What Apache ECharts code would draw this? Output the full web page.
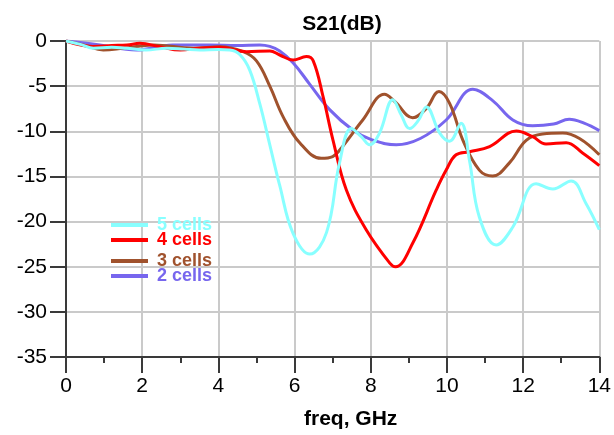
<!DOCTYPE html>
<html>
<head>
<meta charset="utf-8">
<script src="https://cdn.jsdelivr.net/npm/echarts@6/dist/echarts.min.js"></script>
<style>
  html, body { margin: 0; padding: 0; background: #fff; }
  #chart { width: 614px; height: 435px; }
</style>
</head>
<body>
<div id="chart"></div>
<script>
// S21 transmission of 2–5 cell filters vs. frequency
const xTicks = [0, 2, 4, 6, 8, 10, 12, 14];
const yTicks = [0, -5, -10, -15, -20, -25, -30, -35];

const cells5Freq = [0, 0.4, 0.72, 1.2, 1.59, 2.1, 2.64, 3.1, 3.51, 4.0, 4.3, 4.56, 4.82, 5.09, 5.35, 5.61, 5.96, 6.4, 6.84, 7.18, 7.49, 7.75, 7.97, 8.23, 8.58, 8.8, 9.02, 9.25, 9.46, 9.81, 10.07, 10.37, 10.59, 10.85, 11.29, 11.73, 12.34, 12.78, 13.26, 13.65, 14.0];
const cells5Db   = [0, -0.4, -0.8, -0.7, -0.8, -1.0, -0.8, -0.9, -1.0, -0.95, -1.0, -1.5, -3.2, -7.0, -11.5, -16, -21.3, -23.6, -21.2, -13.5, -9.7, -10.6, -11.5, -10.2, -6.5, -8.2, -9.7, -8.8, -7.3, -10.2, -11.1, -9.1, -13.2, -19.5, -22.6, -20.6, -15.8, -16.4, -15.5, -18.0, -20.9];

const cells4Freq = [0, 0.7, 1.2, 1.6, 1.94, 2.46, 3.0, 3.51, 4.04, 4.74, 5.35, 5.61, 5.96, 6.31, 6.49, 6.75, 7.01, 7.36, 7.88, 8.5, 8.65, 9.1, 9.72, 9.98, 10.24, 10.59, 11.12, 11.82, 12.25, 12.6, 13.13, 13.56, 14.0];
const cells4Db   = [0, -0.6, -0.5, -0.44, -0.26, -0.63, -1.0, -0.8, -0.7, -1.18, -1.1, -1.55, -2.1, -1.73, -2.2, -6.2, -11, -16.5, -20.9, -24.6, -25.0, -22.4, -16.5, -14.3, -12.6, -12.26, -11.7, -9.97, -10.6, -11.4, -11.26, -12.4, -13.8];

const cells3Freq = [0, 0.5, 0.98, 1.5, 2.3, 3.34, 4.04, 4.65, 5.0, 5.35, 5.7, 6.14, 6.7, 7.0, 7.18, 7.79, 8.36, 8.63, 9.1, 9.46, 9.79, 10.07, 10.42, 10.85, 11.2, 11.64, 12.08, 12.51, 13.04, 13.48, 14.0];
const cells3Db   = [0, -0.5, -1.0, -0.8, -0.44, -0.8, -0.63, -1.18, -2.2, -5.0, -8.4, -11.3, -13.0, -12.8, -12.1, -8.75, -5.9, -6.7, -8.5, -7.46, -5.6, -6.9, -11, -14.3, -14.96, -13.5, -11, -10.3, -10.2, -10.8, -12.6];

const cells2Freq = [0, 0.89, 1.85, 2.8, 3.78, 4.5, 5.09, 5.35, 5.61, 5.96, 6.4, 6.92, 7.53, 8.0, 8.67, 9.3, 9.98, 10.68, 11.2, 11.73, 12.25, 12.8, 13.21, 13.6, 14.0];
const cells2Db   = [0, -0.44, -1.0, -0.44, -0.44, -0.5, -0.44, -0.6, -1.1, -2.4, -4.8, -7.6, -9.86, -10.9, -11.5, -10.8, -8.75, -5.35, -6.6, -8.75, -9.4, -9.2, -8.67, -9.1, -9.93];

const seriesNames = ['5 cells', '4 cells', '3 cells', '2 cells'];
const seriesColors = ['#88ffff', '#ff0000', '#a0522d', '#7766ee'];
// vertical offsets of the legend rows
const legendTops = [211, 226, 247, 262];

const pairs = (xs, ys) => xs.map((x, i) => [x, ys[i]]);
const seriesData = [
  pairs(cells5Freq, cells5Db),
  pairs(cells4Freq, cells4Db),
  pairs(cells3Freq, cells3Db),
  pairs(cells2Freq, cells2Db)
];

const font = 'Liberation Sans, Arial, sans-serif';
const axisColor = '#3a3a3a';
const chart = echarts.init(document.getElementById('chart'), null, { renderer: 'canvas' });

chart.setOption({
  animation: false,
  backgroundColor: '#fff',
  title: {
    text: 'S21(dB)',
    left: 337, top: 9, textAlign: 'center',
    textStyle: { fontFamily: font, fontSize: 21, fontWeight: 'bold', color: '#000' }
  },
  grid: { left: 66, right: 14, top: 41, bottom: 78 },
  legend: seriesNames.map((n, i) => ({
    orient: 'vertical',
    left: 106, top: legendTops[i],
    itemWidth: 37, itemHeight: 4, itemGap: 0,
    icon: 'rect',
    selectedMode: false,
    data: [{
      name: n,
      textStyle: { color: seriesColors[i], fontFamily: font, fontSize: 18, fontWeight: 'bold', padding: [0, 0, 0, 4] }
    }]
  })),
  xAxis: {
    type: 'value', min: 0, max: 14, interval: 2,
    name: 'freq, GHz', nameLocation: 'middle', nameGap: 52,
    nameTextStyle: { fontFamily: font, fontSize: 21, fontWeight: 'bold', color: '#000', padding: [0, 0, 0, 36] },
    axisLine: { show: true, onZero: false, lineStyle: { color: axisColor, width: 2 } },
    axisTick: { show: true, length: 16, lineStyle: { color: axisColor, width: 2 } },
    minorTick: { show: true, splitNumber: 2, length: 6, lineStyle: { color: axisColor, width: 2 } },
    axisLabel: {
      fontFamily: font, fontSize: 21, color: '#000', margin: 19,
      formatter: v => xTicks.includes(v) ? String(v) : ''
    },
    splitLine: { show: true, lineStyle: { color: '#cacaca', width: 2 } }
  },
  yAxis: {
    type: 'value', min: -35, max: 0, interval: 5,
    axisLine: { show: true, onZero: false, lineStyle: { color: axisColor, width: 2 } },
    axisTick: { show: true, length: 16, lineStyle: { color: axisColor, width: 2 } },
    axisLabel: {
      fontFamily: font, fontSize: 21, color: '#000', margin: 19,
      formatter: v => yTicks.includes(v) ? String(v) : ''
    },
    splitLine: { show: true, lineStyle: { color: '#cacaca', width: 2 } }
  },
  series: seriesNames.map((n, i) => ({
    name: n,
    type: 'line',
    data: seriesData[i],
    smooth: 0.4,
    showSymbol: false,
    symbol: 'none',
    lineStyle: { color: seriesColors[i], width: 3 },
    itemStyle: { color: seriesColors[i] },
    z: 2 + (3 - i)
  }))
});
</script>
</body>
</html>
